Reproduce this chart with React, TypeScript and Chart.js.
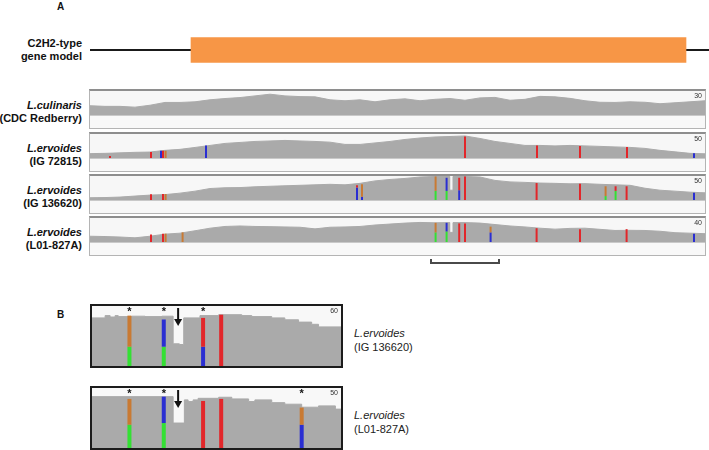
import React, { useEffect, useRef } from "react";
import { Chart, registerables } from "chart.js";
Chart.register(...registerables);

// ---------------- DATA ----------------
// Gene model (bp)
const geneStart = 0;
const geneEnd = 3095;
const exonStart = 505;
const exonEnd = 2980;

// Panel A coverage grid (bp)
const positionsA = [0, 75, 150, 225, 300, 375, 450, 525, 600, 675, 750, 825, 900, 975, 1050, 1125, 1200, 1275, 1350, 1425, 1500, 1575, 1650, 1725, 1800, 1875, 1950, 2025, 2100, 2175, 2250, 2325, 2400, 2475, 2550, 2625, 2700, 2775, 2850, 2925, 3000, 3075];

const culinarisCov = [11.6, 10.8, 10.8, 9.8, 12.2, 15.7, 15.7, 16.5, 19, 20.6, 21.8, 23.9, 26, 23.9, 23, 22.7, 19, 17.8, 19, 16.5, 19, 20.2, 17.8, 19.6, 20.6, 18.4, 21.4, 22, 18.4, 19.6, 23.3, 22.7, 20.8, 17.8, 15.9, 15.7, 16.5, 15.9, 14.1, 15.3, 16.5, 17.8];
const ig72815Cov = [9.1, 9.7, 10.7, 11.8, 12.4, 15.9, 18, 22, 26.2, 30.4, 32.4, 34.5, 35.5, 36.6, 35.5, 34.5, 33, 28.3, 28.3, 31.4, 34.5, 38.6, 41.7, 43.8, 44.8, 45.9, 40.7, 34.5, 30.4, 26.2, 26.2, 25.2, 26.2, 25.2, 24.2, 23.1, 22.1, 20, 15.9, 12.8, 9.7, 8.7];
const ig136620Cov = [4.7, 5.1, 6.1, 8.2, 10.2, 11.2, 14.3, 18.4, 23.9, 25.5, 25.9, 27.5, 28.6, 29.6, 30.6, 31.6, 32.7, 31.6, 34.7, 39.8, 42.8, 44.9, 47.9, 49, 49, 49, 47.9, 40.8, 37.7, 36.7, 35.3, 34.7, 33.7, 34.1, 32.7, 31.6, 30.6, 24.5, 20.4, 18.4, 16.3, 14.9];
const l01Cov = [9.6, 9.1, 8.3, 7, 9.6, 13.1, 14.7, 18.7, 23, 25.9, 26.7, 25.9, 25.6, 25.1, 24.6, 21.9, 24.6, 25.1, 25.9, 28.3, 29.9, 31.5, 32.6, 32, 32.3, 32.3, 31.5, 29.1, 26.7, 25.1, 23, 21.4, 22.7, 23, 21.1, 19.2, 19.5, 19.2, 17.9, 15.5, 14.7, 13.9];

const trackMax = [30, 50, 50, 40];

// Deletion (bp)
const deletionRange = [1798, 1815];
const ig136620DelDepth = 20.4;
const ig136620DelEdge = 49;
const l01DelDepth = 16;
const l01DelEdge = 32.3;

// SNPs: T red, C blue, G orange, A green
const ig72815SnpPos = [100, 305, 355, 365, 378, 580, 1875, 2235, 2450, 2685, 3020];
const ig72815SnpDepth = [4, 12.4, 15, 15, 15, 26.2, 45, 26.2, 24.8, 22.7, 10];
const ig72815SnpUpper = ["T", "T", "C", "T", "G", "C", "T", "T", "T", "T", "C"];
const ig72815SnpLower = ["", "", "", "", "", "", "", "", "", "", ""];
const ig72815SnpLowerDepth = [0, 0, 0, 0, 0, 0, 0, 0, 0, 0, 0];

const ig136620SnpPos = [305, 365, 378, 1335, 1360, 1728, 1783, 1846, 1875, 2233, 2450, 2578, 2628, 2683, 3020];
const ig136620SnpDepth = [12.2, 12.5, 12.5, 30.6, 32.6, 49, 46.3, 46.3, 49, 35.3, 34.1, 28.6, 28.6, 28.6, 14.9];
const ig136620SnpUpper = ["T", "T", "G", "T", "G", "G", "C", "T", "T", "T", "T", "G", "T", "T", "C"];
const ig136620SnpLower = ["", "", "", "C", "C", "A", "A", "C", "", "", "", "A", "A", "", ""];
const ig136620SnpLowerDepth = [0, 0, 0, 25.9, 6.8, 19, 19, 20.4, 0, 0, 0, 8.2, 19, 0, 0];

const l01SnpPos = [305, 365, 378, 463, 1728, 1783, 1846, 1875, 2003, 2233, 2450, 2683, 3020];
const l01SnpDepth = [12.3, 13.9, 13.9, 16, 32, 32, 31, 31, 25.6, 23, 21.4, 21.4, 13.9];
const l01SnpUpper = ["T", "T", "G", "G", "G", "C", "T", "T", "G", "T", "T", "T", "C"];
const l01SnpLower = ["", "", "", "", "A", "A", "", "", "C", "", "", "", ""];
const l01SnpLowerDepth = [0, 0, 0, 0, 16, 17.6, 0, 0, 16, 0, 0, 0, 0];

// Bracket for zoomed region (bp)
const bracketRange = [1705, 2045];

// Panel B (bp), stepped coverage
const panelBRange = [1668, 2067];
const panelBMax = [60, 50];
const b1Pos = [1668, 1689, 1697, 1705, 1710, 1732, 1753, 1780, 1798, 1808, 1815, 1841, 1871, 1908, 1924, 1956, 1977, 1999, 2020, 2031, 2067];
const b1Cov = [48.1, 50.4, 49.0, 50.4, 49.4, 49.8, 49.4, 49.8, 22.2, 21.5, 48.1, 50.4, 51.3, 50.4, 49.4, 48.1, 46.2, 43.9, 41.7, 39.1, 39.1];
const b1SnpPos = [1728, 1783, 1846, 1875];
const b1SnpDepth = [50.4, 46.5, 48.1, 51.3];
const b1SnpUpper = ["G", "C", "T", "T"];
const b1SnpLower = ["A", "A", "C", ""];
const b1SnpLowerDepth = [19.3, 19.3, 19.3, 0];
const b1Stars = [1728, 1783, 1846];

const b2Pos = [1668, 1798, 1816, 1822, 1830, 1838, 1871, 1892, 1919, 1929, 1956, 1977, 2004, 2031, 2058, 2067];
const b2Cov = [42.8, 20.8, 40.1, 38.7, 40.1, 41.4, 42.3, 40.9, 38.7, 40.1, 37.8, 36.5, 34.0, 35.1, 32.4, 32.4];
const b2SnpPos = [1728, 1783, 1846, 1875, 2004];
const b2SnpDepth = [40.9, 42.8, 39.2, 40.9, 33.7];
const b2SnpUpper = ["G", "C", "T", "T", "G"];
const b2SnpLower = ["A", "A", "", "", "C"];
const b2SnpLowerDepth = [19.4, 20.8, 0, 0, 19.4];
const b2Stars = [1728, 1783, 2004];
const deletionArrowPos = 1806;

// ---------------- STYLE ----------------
const FONT = '"Liberation Sans", Arial, Helvetica, sans-serif';
const COV_GRAY = "#aaaaaa";
const BASE_COLORS: Record<string, string> = { T: "#e2262a", C: "#2a2ed2", G: "#c97a33", A: "#34e034" };
const ORANGE = "#f79646";

function coveragePoints(pos: number[], cov: number[], del?: { range: number[]; depth: number; edge: number }) {
  const pts: { x: number; y: number }[] = [];
  pos.forEach((p, i) => {
    if (!del || p < del.range[0] || p > del.range[1]) pts.push({ x: p, y: cov[i] });
  });
  if (del) {
    pts.push({ x: del.range[0], y: del.edge }, { x: del.range[0], y: del.depth }, { x: del.range[1], y: del.depth }, { x: del.range[1], y: del.edge });
  }
  return pts.sort((a, b) => a.x - b.x);
}

function snpDatasets(pos: number[], depth: number[], upper: string[], lower: string[], lowerDepth: number[], thickness: number) {
  const up = pos.map((p, i) => ({ x: p, y: [lowerDepth[i], depth[i]] }));
  const upColors = upper.map((b) => BASE_COLORS[b]);
  const lo: any[] = [];
  const loColors: string[] = [];
  pos.forEach((p, i) => {
    if (lower[i]) {
      lo.push({ x: p, y: [0, lowerDepth[i]] });
      loColors.push(BASE_COLORS[lower[i]]);
    }
  });
  const common = { type: "bar", barThickness: thickness, grouped: false, borderWidth: 0, order: 0, inflateAmount: 0 };
  return [
    { ...common, data: up, backgroundColor: upColors },
    { ...common, data: lo, backgroundColor: loColors },
  ];
}

function baseOptions(xmin: number, xmax: number, ymin: number, ymax: number) {
  return {
    animation: false,
    responsive: false,
    devicePixelRatio: 1,
    events: [],
    layout: { padding: 0 },
    plugins: { legend: { display: false }, tooltip: { enabled: false } },
    scales: {
      x: { type: "linear", min: xmin, max: xmax, display: false, offset: false },
      y: { type: "linear", min: ymin, max: ymax, display: false },
    },
  };
}

function ChartCanvas({ width, height, make }: { width: number; height: number; make: () => any }) {
  const ref = useRef<HTMLCanvasElement>(null);
  useEffect(() => {
    const chart = new Chart(ref.current as HTMLCanvasElement, make());
    return () => chart.destroy();
  }, []);
  return <canvas ref={ref} width={width} height={height} style={{ display: "block", width, height }} />;
}

const scaleLabelPlugin = (max: number, size: number) => ({
  id: "scaleLabel",
  afterDraw(chart: any) {
    const { ctx, chartArea } = chart;
    ctx.save();
    ctx.font = `${size}px ${FONT}`;
    ctx.fillStyle = "#333";
    ctx.textAlign = "right";
    ctx.textBaseline = "top";
    ctx.fillText(String(max), chartArea.right - 3, chartArea.top + 2);
    ctx.restore();
  },
});

const markPlugin = (stars: number[], arrowAt: number) => ({
  id: "marks",
  afterDraw(chart: any) {
    const { ctx, chartArea, scales } = chart;
    ctx.save();
    ctx.fillStyle = "#111";
    ctx.font = `bold 11px ${FONT}`;
    ctx.textAlign = "center";
    ctx.textBaseline = "top";
    stars.forEach((s) => ctx.fillText("*", scales.x.getPixelForValue(s), chartArea.top + 0));
    const ax = scales.x.getPixelForValue(arrowAt);
    ctx.strokeStyle = "#111";
    ctx.lineWidth = 2;
    ctx.beginPath();
    ctx.moveTo(ax, chartArea.top + 2);
    ctx.lineTo(ax, chartArea.top + 14);
    ctx.stroke();
    ctx.beginPath();
    ctx.moveTo(ax - 4, chartArea.top + 13);
    ctx.lineTo(ax + 4, chartArea.top + 13);
    ctx.lineTo(ax, chartArea.top + 20);
    ctx.closePath();
    ctx.fill();
    ctx.restore();
  },
});

function trackConfig(max: number, pts: any[], extra: any[], xmin: number, xmax: number, stepped: any, plugins: any[]) {
  return {
    type: "line",
    data: {
      datasets: [
        {
          type: "line",
          data: pts,
          fill: "origin",
          backgroundColor: COV_GRAY,
          borderColor: COV_GRAY,
          borderWidth: 1,
          pointRadius: 0,
          tension: 0,
          stepped,
          order: 10,
        },
        ...extra,
      ],
    },
    options: baseOptions(xmin, xmax, 0, max),
    plugins,
  };
}

const TRACK_W = 615;
const COV_H = 24;

function TrackA({ top, lines, make }: { top: number; lines: string[]; make: () => any }) {
  return (
    <>
      <div
        style={{
          position: "absolute",
          right: 709 - 82,
          top: top + 10,
          textAlign: "right",
          whiteSpace: "nowrap",
          font: `bold 11px ${FONT}`,
          lineHeight: "13px",
          color: "#111",
        }}
      >
        <div style={{ fontStyle: "italic" }}>{lines[0]}</div>
        <div>{lines[1]}</div>
      </div>
      <div
        style={{
          position: "absolute",
          left: 89,
          top,
          width: TRACK_W,
          border: "1px solid #b4b4b4",
          borderTop: "2px solid #8e8e8e",
          background: "#f7f7f7",
        }}
      >
        <ChartCanvas width={TRACK_W} height={COV_H} make={make} />
        <div style={{ height: 12, borderTop: "1px solid #c9c9c9", background: "#f8f8f8" }} />
      </div>
    </>
  );
}

function BoxB({ top, h, lines, make }: { top: number; h: number; lines: string[]; make: () => any }) {
  return (
    <>
      <div
        style={{
          position: "absolute",
          left: 90,
          top,
          width: 249,
          height: h,
          border: "2px solid #1c1c1c",
          background: "#f8f8f8",
        }}
      >
        <ChartCanvas width={249} height={h} make={make} />
      </div>
      <div
        style={{
          position: "absolute",
          left: 354,
          top: top + 22,
          whiteSpace: "nowrap",
          font: `11px ${FONT}`,
          lineHeight: "14px",
          color: "#222",
        }}
      >
        <div style={{ fontStyle: "italic" }}>{lines[0]}</div>
        <div>{lines[1]}</div>
      </div>
    </>
  );
}

export default function App() {
  const xMinA = positionsA[0];
  const xMaxA = positionsA[positionsA.length - 1];
  return (
    <div style={{ position: "absolute", left: 0, top: 0, width: 709, height: 450, background: "#fff", overflow: "hidden", fontFamily: FONT }}>
      <div style={{ position: "absolute", left: 57, top: 1, font: `bold 10px ${FONT}`, color: "#111" }}>A</div>
      <div style={{ position: "absolute", left: 57, top: 309, font: `bold 10px ${FONT}`, color: "#111" }}>B</div>

      {/* Gene model */}
      <div
        style={{
          position: "absolute",
          right: 709 - 82,
          top: 37,
          textAlign: "right",
          whiteSpace: "nowrap",
          font: `bold 11px ${FONT}`,
          lineHeight: "13px",
          color: "#111",
        }}
      >
        <div>C2H2-type</div>
        <div>gene model</div>
      </div>
      <div style={{ position: "absolute", left: 90, top: 30 }}>
        <ChartCanvas
          width={619}
          height={40}
          make={() => ({
            type: "line",
            data: {
              datasets: [
                {
                  type: "bar",
                  indexAxis: "y",
                  data: [{ y: 0, x: [exonStart, exonEnd] }],
                  backgroundColor: ORANGE,
                  barThickness: 25,
                  grouped: false,
                  borderWidth: 0,
                  order: 0,
                },
                {
                  type: "line",
                  data: [
                    { x: geneStart, y: 0 },
                    { x: geneEnd, y: 0 },
                  ],
                  borderColor: "#1a1a1a",
                  borderWidth: 2,
                  pointRadius: 0,
                  order: 10,
                },
              ],
            },
            options: baseOptions(geneStart, geneEnd, -1, 1),
          })}
        />
      </div>

      <TrackA
        top={89}
        lines={["L.culinaris", "(CDC Redberry)"]}
        make={() => trackConfig(trackMax[0], coveragePoints(positionsA, culinarisCov), [], xMinA, xMaxA, false, [scaleLabelPlugin(trackMax[0], 7)])}
      />
      <TrackA
        top={132}
        lines={["L.ervoides", "(IG 72815)"]}
        make={() =>
          trackConfig(
            trackMax[1],
            coveragePoints(positionsA, ig72815Cov),
            snpDatasets(ig72815SnpPos, ig72815SnpDepth, ig72815SnpUpper, ig72815SnpLower, ig72815SnpLowerDepth, 2),
            xMinA,
            xMaxA,
            false,
            [scaleLabelPlugin(trackMax[1], 7)]
          )
        }
      />
      <TrackA
        top={174}
        lines={["L.ervoides", "(IG 136620)"]}
        make={() =>
          trackConfig(
            trackMax[2],
            coveragePoints(positionsA, ig136620Cov, { range: deletionRange, depth: ig136620DelDepth, edge: ig136620DelEdge }),
            snpDatasets(ig136620SnpPos, ig136620SnpDepth, ig136620SnpUpper, ig136620SnpLower, ig136620SnpLowerDepth, 2),
            xMinA,
            xMaxA,
            false,
            [scaleLabelPlugin(trackMax[2], 7)]
          )
        }
      />
      <TrackA
        top={216}
        lines={["L.ervoides", "(L01-827A)"]}
        make={() =>
          trackConfig(
            trackMax[3],
            coveragePoints(positionsA, l01Cov, { range: deletionRange, depth: l01DelDepth, edge: l01DelEdge }),
            snpDatasets(l01SnpPos, l01SnpDepth, l01SnpUpper, l01SnpLower, l01SnpLowerDepth, 2),
            xMinA,
            xMaxA,
            false,
            [scaleLabelPlugin(trackMax[3], 7)]
          )
        }
      />

      {/* Bracket */}
      <div style={{ position: "absolute", left: 90, top: 257 }}>
        <ChartCanvas
          width={TRACK_W}
          height={8}
          make={() => ({
            type: "line",
            data: {
              datasets: [
                {
                  data: [
                    { x: bracketRange[0], y: 1 },
                    { x: bracketRange[0], y: 0 },
                    { x: bracketRange[1], y: 0 },
                    { x: bracketRange[1], y: 1 },
                  ],
                  borderColor: "#4a4a4a",
                  borderWidth: 2,
                  pointRadius: 0,
                  fill: false,
                },
              ],
            },
            options: baseOptions(xMinA, xMaxA, -0.5, 1.5),
          })}
        />
      </div>

      <BoxB
        top={304}
        h={60}
        lines={["L.ervoides", "(IG 136620)"]}
        make={() =>
          trackConfig(
            panelBMax[0],
            coveragePoints(b1Pos, b1Cov),
            snpDatasets(b1SnpPos, b1SnpDepth, b1SnpUpper, b1SnpLower, b1SnpLowerDepth, 4),
            panelBRange[0],
            panelBRange[1],
            "before",
            [scaleLabelPlugin(panelBMax[0], 7), markPlugin(b1Stars, deletionArrowPos)]
          )
        }
      />
      <BoxB
        top={386}
        h={60}
        lines={["L.ervoides", "(L01-827A)"]}
        make={() =>
          trackConfig(
            panelBMax[1],
            coveragePoints(b2Pos, b2Cov),
            snpDatasets(b2SnpPos, b2SnpDepth, b2SnpUpper, b2SnpLower, b2SnpLowerDepth, 4),
            panelBRange[0],
            panelBRange[1],
            "before",
            [scaleLabelPlugin(panelBMax[1], 7), markPlugin(b2Stars, deletionArrowPos)]
          )
        }
      />
    </div>
  );
}
